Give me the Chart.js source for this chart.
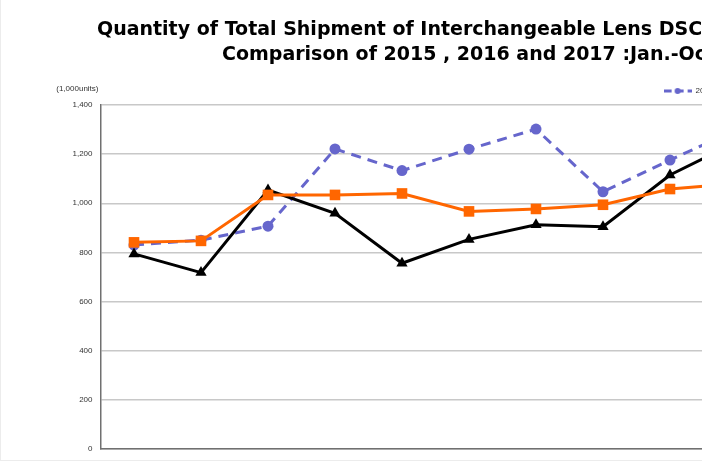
<!DOCTYPE html>
<html>
<head>
<meta charset="utf-8">
<script src="https://cdn.jsdelivr.net/npm/chart.js@4/dist/chart.umd.min.js"></script>
<style>
  html, body { margin: 0; padding: 0; background: #fff; overflow: hidden; }
  #wrap { position: relative; width: 843px; height: 462px; }
  #frame { position: absolute; left: 0; top: 0; width: 843px; height: 461px; box-sizing: border-box;
           border-left: 1px solid #ececec; border-bottom: 1px solid #ececec; pointer-events: none; }
  canvas { position: absolute; left: 0; top: 0; }
</style>
</head>
<body>
<div id="wrap">
  <canvas id="c" width="843" height="462"></canvas>
  <div id="frame"></div>
</div>
<script>
// ---- data ----
const months = ["Jan.", "Feb.", "Mar.", "Apr.", "May", "Jun.", "Jul.", "Aug.", "Sep.", "Oct."];
const seriesNames = ["2015", "2016", "2017"];
const values2015 = [830, 850, 907, 1221, 1133, 1220, 1302, 1047, 1176, 1300];
const values2016 = [841, 847, 1034, 1034, 1040, 967, 977, 994, 1058, 1081];
const values2017 = [794, 718, 1054, 959, 756, 853, 913, 905, 1115, 1250];
const yTicks = [0, 200, 400, 600, 800, 1000, 1200, 1400];
const titleLines = ["Quantity of Total Shipment of Interchangeable Lens DSC",
                    "Comparison of 2015 , 2016 and 2017 :Jan.-Oct."];
const unitLabel = "(1,000units)";

const colors = ["#6666cc", "#ff6600", "#000000"];
const styles = ["circle", "rect", "triangle"];

function legendIcon(color, dashed, style) {
  const cv = document.createElement('canvas');
  cv.width = 28; cv.height = 10;
  const g = cv.getContext('2d');
  g.strokeStyle = color; g.fillStyle = color; g.lineWidth = 3;
  if (dashed) g.setLineDash([8, 4]);
  g.beginPath(); g.moveTo(0, 5); g.lineTo(28, 5); g.stroke();
  g.setLineDash([]);
  g.beginPath();
  if (style === 'circle') { g.arc(14, 5, 3, 0, Math.PI * 2); }
  else if (style === 'rect') { g.rect(11, 2, 6, 6); }
  else { g.moveTo(14, 1); g.lineTo(18, 8); g.lineTo(10, 8); g.closePath(); }
  g.fill();
  return cv;
}
const icons = [legendIcon(colors[0], true, styles[0]), legendIcon(colors[1], false, styles[1]), legendIcon(colors[2], false, styles[2])];

const textPlugin = {
  id: 'texts',
  afterDraw(chart) {
    const ctx = chart.ctx, a = chart.chartArea;
    ctx.save();
    ctx.fillStyle = '#000';
    ctx.textAlign = 'left';
    ctx.textBaseline = 'alphabetic';
    ctx.font = 'bold 19px "DejaVu Sans", sans-serif';
    ctx.fillText(titleLines[0], 97, 35);
    ctx.fillText(titleLines[1], 222, 60);
    ctx.font = '8px "Liberation Sans", Arial, sans-serif';
    ctx.fillStyle = '#333';
    ctx.textAlign = 'right';
    ctx.textBaseline = 'middle';
    ctx.fillText(unitLabel, a.left - 2, a.top - 16);
    ctx.restore();
  }
};

const datasets = [
  { label: seriesNames[0], data: values2015, borderColor: colors[0], backgroundColor: colors[0],
    borderDash: [10, 7], pointStyle: styles[0], pointRadius: 5.5, order: 3 },
  { label: seriesNames[1], data: values2016, borderColor: colors[1], backgroundColor: colors[1],
    pointStyle: styles[1], pointRadius: 7.5, order: 1 },
  { label: seriesNames[2], data: values2017, borderColor: colors[2], backgroundColor: colors[2],
    pointStyle: styles[2], pointRadius: 6.5, order: 2 }
].map(d => Object.assign({ borderWidth: 3, tension: 0, pointBorderWidth: 0, pointHoverRadius: 6, yAxisID: 'y' }, d));

new Chart(document.getElementById('c'), {
  type: 'line',
  data: { labels: months, datasets },
  options: {
    responsive: false,
    animation: false,
    devicePixelRatio: 1,
    layout: { padding: { top: 77, bottom: 13, left: 0, right: 0 } },
    plugins: {
      title: { display: false },
      tooltip: { enabled: false },
      legend: {
        display: true, position: 'top', align: 'end',
        labels: {
          usePointStyle: true, pointStyleWidth: 28, boxHeight: 8, padding: 10,
          color: '#333', font: { size: 8, family: '"Liberation Sans", Arial, sans-serif' },
          sort: (a, b) => a.datasetIndex - b.datasetIndex,
          generateLabels: (chart) => Chart.defaults.plugins.legend.labels.generateLabels(chart)
            .map(l => Object.assign(l, { pointStyle: icons[l.datasetIndex] }))
        }
      }
    },
    scales: {
      x: {
        type: 'category', offset: true,
        grid: { display: false },
        ticks: { display: false },
        border: { display: true, color: '#707070', width: 1.5 },
        afterFit: s => { s.height = 0; }
      },
      y: {
        min: 0, max: 1400,
        afterBuildTicks: s => { s.ticks = yTicks.map(v => ({ value: v })); },
        grid: { color: '#c8c8c8', lineWidth: 1.5, drawTicks: false },
        border: { display: true, color: '#707070', width: 1.5 },
        ticks: { padding: 8, color: '#333', font: { size: 8, family: '"Liberation Sans", Arial, sans-serif' } },
        afterFit: s => { s.width = 100.5; }
      },
      y2: {
        position: 'right', display: true,
        grid: { display: false }, border: { display: false },
        ticks: { display: false },
        afterFit: s => { s.width = 72.5; }
      }
    }
  },
  plugins: [textPlugin]
});
</script>
</body>
</html>
